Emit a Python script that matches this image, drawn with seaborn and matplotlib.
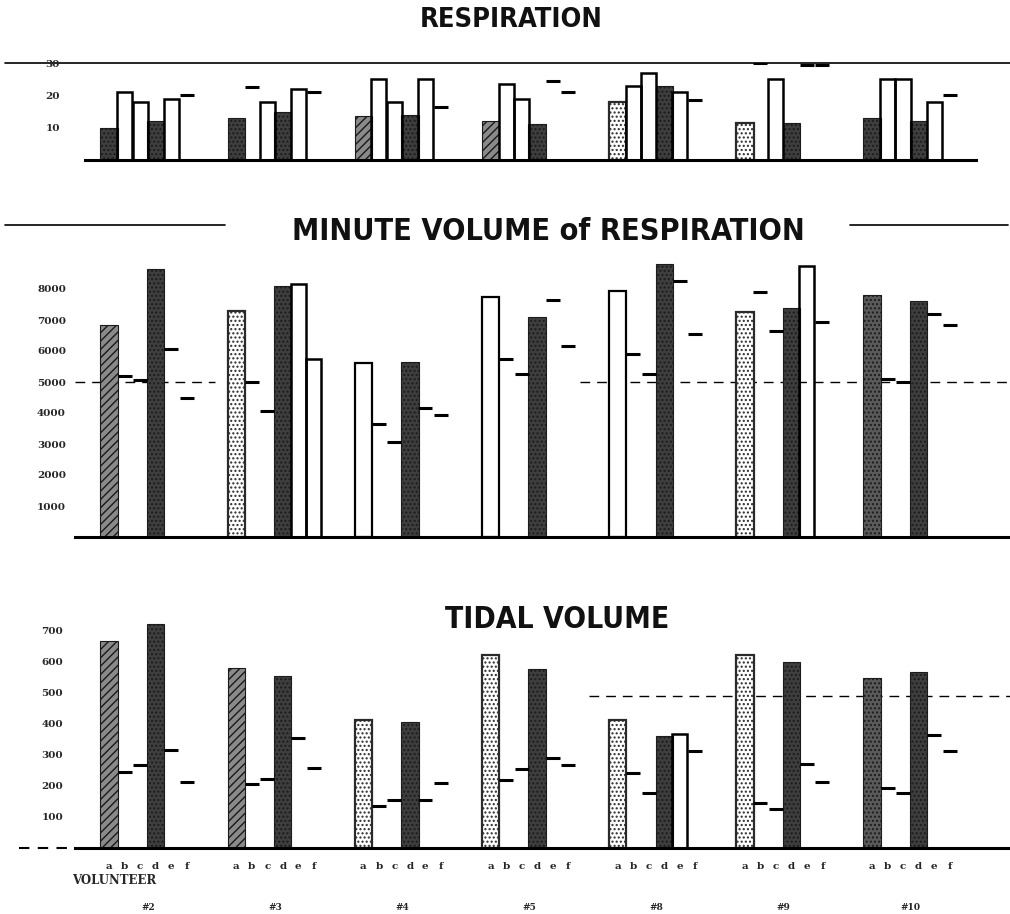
import numpy as np
import pandas as pd
import matplotlib
matplotlib.use("Agg")
import matplotlib.pyplot as plt
import matplotlib.transforms as mtransforms
from matplotlib.lines import Line2D
from matplotlib import font_manager
from matplotlib.font_manager import FontProperties
import seaborn as sns

nan = np.nan

# ---------------- data ----------------
volunteers = ["#2", "#3", "#4", "#5", "#8", "#9", "#10"]
categories = ["a", "b", "c", "d", "e", "f"]

resp_a = [10, 13, 13.5, 12, 18, 11.5, 13]
resp_b = [21, 22.5, 25, 23.5, 23, 30, 25]
resp_c = [18, 18, 18, 19, 27, 25, 25]
resp_d = [12, 15, 14, 11, 23, 11.5, 12]
resp_e = [19, 22, 25, 24.5, 21, 29.5, 18]
resp_f = [20, 21, 16.5, 21, 18.5, 29.5, 20]

mv_a = [6850, 7300, 5600, 7750, 7950, 7250, 7800]
mv_b = [5200, 5000, 3650, 5750, 5900, 7900, 5100]
mv_c = [5050, 4050, 3050, 5250, 5250, 6650, 5000]
mv_d = [8650, 8100, 5650, 7100, 8800, 7400, 7600]
mv_e = [6050, 8150, 4150, 7650, 8250, 8750, 7200]
mv_f = [4500, 5750, 3950, 6150, 6550, 6950, 6850]

tv_a = [665, 580, 412, 622, 410, 622, 546]
tv_b = [245, 205, 135, 218, 240, 145, 192]
tv_c = [265, 222, 154, 253, 177, 125, 177]
tv_d = [720, 553, 404, 575, 360, 598, 566]
tv_e = [315, 353, 155, 290, 365, 270, 363]
tv_f = [213, 256, 208, 267, 310, 212, 310]

resp_ticks = [10, 20, 30]
mv_ticks = [1000, 2000, 3000, 4000, 5000, 6000, 7000, 8000]
tv_ticks = [100, 200, 300, 400, 500, 600, 700]

# ---------------- styles ----------------
resp_a_style = ["dark", "dark", "hatch", "hatch", "light", "light", "dark"]
mv_a_style = ["hatch", "light", "open", "open", "open", "light", "mid"]
tv_a_style = ["hatch", "hatch", "light", "light", "light", "light", "mid"]
# b, c, e, f drawn as S = open step bar, D = dash
resp_kind = ["SSSD", "DSSD", "SSSD", "SSDD", "SSSD", "DSDD", "SSSD"]
mv_kind = ["DDDD", "DDSS", "DDDD", "DDDD", "DDDD", "DDSD", "DDDD"]
tv_kind = ["DDDD", "DDDD", "DDDD", "DDDD", "DDSD", "DDDD", "DDDD"]

GAP = 8.2  # slot distance between volunteer groups

sns.set_theme(style="white")
plt.rcParams["font.family"] = ["DejaVu Sans"]


def find_title_font():
    cands = []
    for f in font_manager.fontManager.ttflist:
        nm = f.name.lower()
        path = f.fname.lower()
        cond = ("narrow" in nm or "condensed" in nm or "narrow" in path or "condensed" in path
                or str(f.stretch) in ("condensed", "semi-condensed", "extra-condensed"))
        if not cond or "italic" in path or "oblique" in path or f.style != "normal":
            continue
        w = f.weight if isinstance(f.weight, int) else {"bold": 700, "normal": 400}.get(str(f.weight), 400)
        pref = 0
        if "liberation" in nm or "liberation" in path:
            pref = 3
        elif "dejavu" in nm or "dejavu" in path:
            pref = 2
        elif "roboto" in nm or "noto" in nm or "open" in nm:
            pref = 1
        cands.append((abs(w - 700), -pref, f.fname))
    if cands:
        cands.sort()
        return FontProperties(fname=cands[0][2]), 1.0
    return FontProperties(family="Liberation Sans", weight="bold"), 0.78


TITLE_FP, TSCALE = find_title_font()

SERIF = dict(family="DejaVu Serif", weight="bold")

fig = plt.figure(figsize=(10.1, 9.14), dpi=100)
FW, FH = 1010, 914
L, W = 75 / FW, 935 / FW
ax_r = fig.add_axes([L, 1 - 160 / FH, W, 97 / FH])
ax_m = fig.add_axes([L, 1 - 537 / FH, W, 279 / FH])
ax_t = fig.add_axes([L, 1 - 847.7 / FH, W, 233.7 / FH])

STYLE = {
    "dark": dict(facecolor="#3e3e3e", edgecolor="#1c1c1c", hatch="...."),
    "mid": dict(facecolor="#5a5a5a", edgecolor="#1c1c1c", hatch="...."),
    "hatch": dict(facecolor="#8a8a8a", edgecolor="#1a1a1a", hatch="////"),
    "light": dict(facecolor="white", edgecolor="#2a2a2a", hatch="...."),
    "open": dict(facecolor="white", edgecolor="black", hatch=None),
}


def build(cols):
    rows = []
    for g, v in enumerate(volunteers):
        for i, c in enumerate(categories):
            rows.append(dict(vol=v, letter=c, gi=g, ci=i, pos=g * GAP + i, value=cols[i][g]))
    return pd.DataFrame(rows)


def native_w(pos):
    u = np.unique(pos)
    return np.diff(u).min() if len(u) > 1 else 1.0


def panel(ax, cols, a_style, kinds, ylim, ticks, pad):
    df = build(cols).dropna(subset=["value"])
    # filled bars a and d
    bars = df[df["letter"].isin(["a", "d"])].sort_values("pos").reset_index(drop=True)
    sns.barplot(data=bars, x="pos", y="value", native_scale=True, orient="x",
                width=1.12 / native_w(bars["pos"]), errorbar=None, ax=ax, color="#3e3e3e")
    cont = ax.containers[-1]
    for patch, r in zip(cont.patches, bars.to_dict("records")):
        st = STYLE[a_style[r["gi"]]] if r["letter"] == "a" else STYLE["dark"]
        patch.set_facecolor(st["facecolor"])
        patch.set_edgecolor(st["edgecolor"])
        patch.set_hatch(st["hatch"])
        patch.set_linewidth(1.6 if st["facecolor"] == "white" else 0.8)
    # other measures
    other = df[~df["letter"].isin(["a", "d"])].copy()
    kidx = {"b": 0, "c": 1, "e": 2, "f": 3}
    other["kind"] = [kinds[r["gi"]][kidx[r["letter"]]] for r in other.to_dict("records")]
    steps = other[other["kind"] == "S"].sort_values("pos")
    dashes = other[other["kind"] == "D"]
    if len(steps):
        sns.barplot(data=steps, x="pos", y="value", native_scale=True, orient="x",
                    width=0.97 / native_w(steps["pos"]), errorbar=None, ax=ax,
                    fill=False, color="black", linewidth=1.8)
    if len(dashes):
        sns.scatterplot(data=dashes, x="pos", y="value", marker="_", s=110,
                        color="black", linewidth=2.2, ax=ax, legend=False, zorder=5)
    ax.set_xlim(-2.2, 58.1)
    ax.set_ylim(*ylim)
    ax.set_yticks(ticks)
    ax.set_yticklabels([str(t) for t in ticks], fontdict=dict(size=7.5, **SERIF))
    ax.tick_params(axis="y", length=0, pad=pad)
    ax.set_xlabel("")
    ax.set_ylabel("")
    for s in ["top", "right", "left"]:
        ax.spines[s].set_visible(False)
    ax.spines["bottom"].set_color("black")
    ax.spines["bottom"].set_linewidth(2.2)
    ax.set_facecolor("none")


panel(ax_r, [resp_a, resp_b, resp_c, resp_d, resp_e, resp_f], resp_a_style, resp_kind,
      (0, 30), resp_ticks, 11)
panel(ax_m, [mv_a, mv_b, mv_c, mv_d, mv_e, mv_f], mv_a_style, mv_kind,
      (0, 9000), mv_ticks, 6.5)
panel(ax_t, [tv_a, tv_b, tv_c, tv_d, tv_e, tv_f], tv_a_style, tv_kind,
      (0, 753), tv_ticks, 8.5)

# respiration: top reference line and shorter baseline
ax_r.axhline(30, xmin=-0.075, xmax=1.0, color="black", lw=1.2, clip_on=False, zorder=0)
ax_r.spines["bottom"].set_bounds(-1.55, 55.9)
ax_r.set_xticks([])
ax_m.set_xticks([])

# dashed reference lines
ax_m.axhline(5000, xmin=0.0, xmax=0.15, color="black", lw=1.0, ls=(0, (7, 5)), zorder=0)
ax_m.axhline(5000, xmin=0.54, xmax=1.0, color="black", lw=1.0, ls=(0, (7, 5)), zorder=0)
ax_t.axhline(490, xmin=0.55, xmax=1.0, color="black", lw=1.0, ls=(0, (7, 5)), zorder=0)
ax_t.axhline(0, xmin=-0.06, xmax=0.0, color="black", lw=1.5, ls=(0, (5, 4)), clip_on=False)

# x tick labels (a..f) on tidal panel
pos_all = [g * GAP + i for g in range(len(volunteers)) for i in range(len(categories))]
ax_t.set_xticks(pos_all)
ax_t.set_xticklabels(categories * len(volunteers), fontdict=dict(size=7.5, **SERIF))
ax_t.tick_params(axis="x", length=0, pad=10)

trans = mtransforms.blended_transform_factory(ax_t.transData, ax_t.transAxes)
for g, v in enumerate(volunteers):
    ax_t.text(g * GAP + 2.5, -0.254, v, transform=trans, ha="center", va="center",
              fontsize=6.5, **SERIF)
fig.text(72 / FW, 1 - 880 / FH, "VOLUNTEER", ha="left", va="center", fontsize=8.5, **SERIF)


# titles
def title(x, y, s, size):
    fp = TITLE_FP.copy()
    fp.set_size(size * TSCALE)
    fig.text(x / FW, 1 - y / FH, s, ha="center", va="center", fontproperties=fp, color="#111")


title(511, 20, "RESPIRATION", 19.5)
title(548, 231, "MINUTE VOLUME of RESPIRATION", 22)
title(557, 620, "TIDAL VOLUME", 21.5)
fig.add_artist(Line2D([5 / FW, 225 / FW], [1 - 225 / FH] * 2, color="black", lw=1.2))
fig.add_artist(Line2D([850 / FW, 1008 / FW], [1 - 225 / FH] * 2, color="black", lw=1.2))

fig.savefig("out.png", dpi=100, facecolor="white")
